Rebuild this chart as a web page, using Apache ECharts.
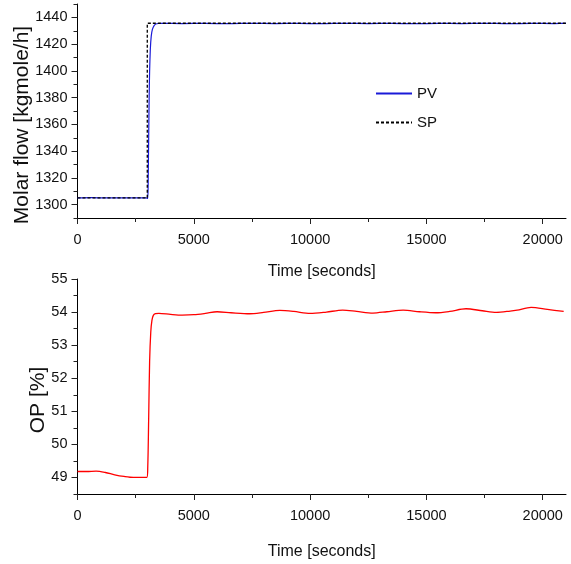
<!DOCTYPE html>
<html>
<head>
<meta charset="utf-8">
<script src="https://cdn.jsdelivr.net/npm/echarts@6/dist/echarts.min.js"></script>
<style>
html,body{margin:0;padding:0;background:#fff;}
#chart{width:571px;height:564px;}
</style>
</head>
<body>
<div id="chart"></div>
<script>
// ---- data ----
var xTicks = [0, 5000, 10000, 15000, 20000];
var xMinorTicks = [2500, 7500, 12500, 17500];
var flowTicks = [1300, 1320, 1340, 1360, 1380, 1400, 1420, 1440];
var flowMinorTicks = [1290, 1310, 1330, 1350, 1370, 1390, 1410, 1430, 1450];
var opTicks = [49, 50, 51, 52, 53, 54, 55];
var opMinorTicks = [48.5, 49.5, 50.5, 51.5, 52.5, 53.5, 54.5];

var pvTime = [0, 600, 1200, 1800, 2400, 2950, 3020, 3040, 3060, 3080, 3100, 3130, 3170, 3220, 3300, 3400, 3600, 4500, 5500, 6500, 7500, 8500, 9500, 10500, 11500, 12500, 13500, 14500, 15500, 16500, 17500, 18500, 19500, 20500, 21000];
var pvValues = [1305, 1305.2, 1305, 1305.1, 1305, 1305, 1304.6, 1320, 1350, 1380, 1400, 1416, 1426, 1431, 1434, 1435.2, 1435.6, 1435.4, 1435.5, 1435.3, 1435.6, 1435.4, 1435.5, 1435.3, 1435.6, 1435.4, 1435.5, 1435.3, 1435.5, 1435.4, 1435.6, 1435.3, 1435.5, 1435.4, 1435.5];

var spTime = [0, 3000, 3000, 21000];
var spValues = [1305, 1305, 1435.6, 1435.6];

var opTime = [0, 400, 800, 1200, 1600, 2000, 2400, 2800, 2980, 3020, 3060, 3100, 3150, 3200, 3260, 3350, 3500, 4000, 4500, 5000, 5500, 6000, 6600, 7400, 8000, 8700, 9300, 10000, 10700, 11400, 12000, 12700, 13300, 14000, 14700, 15400, 16000, 16700, 17400, 18000, 18600, 18900, 19500, 20200, 20900];
var opValues = [49.18, 49.18, 49.19, 49.15, 49.08, 49.03, 49.0, 49.0, 49.0, 49.3, 50.8, 52.5, 53.4, 53.75, 53.9, 53.95, 53.96, 53.93, 53.91, 53.92, 53.96, 54.01, 53.98, 53.95, 53.99, 54.05, 54.02, 53.96, 54.0, 54.06, 54.02, 53.97, 54.01, 54.06, 54.01, 53.98, 54.02, 54.1, 54.04, 53.99, 54.03, 54.06, 54.14, 54.08, 54.02];

function zip(a, b) { return a.map(function (v, i) { return [v, b[i]]; }); }

var sans = '"Liberation Sans", Arial, sans-serif';
function plain(v) { return String(v); }

function mainX(grid, gap) {
  return {
    type: 'value', gridIndex: grid, min: 0, max: 21000, position: 'bottom',
    axisLine: { show: true, onZero: false, lineStyle: { color: '#000', width: 1 } },
    axisTick: { show: true, length: 6, lineStyle: { color: '#222' }, customValues: xTicks },
    axisLabel: { show: true, margin: 14, fontSize: 14.5, fontFamily: sans, color: '#111', customValues: xTicks, formatter: plain },
    splitLine: { show: false },
    name: 'Time [seconds]', nameLocation: 'middle', nameGap: gap,
    nameTextStyle: { fontSize: 16, fontFamily: sans, color: '#111' }
  };
}
function minorX(grid) {
  return {
    type: 'value', gridIndex: grid, min: 0, max: 21000, position: 'bottom',
    axisLine: { show: false, onZero: false },
    axisTick: { show: true, length: 4, lineStyle: { color: '#222' }, customValues: xMinorTicks },
    axisLabel: { show: false },
    splitLine: { show: false }
  };
}
function mainY(grid, min, max, ticks) {
  return {
    type: 'value', gridIndex: grid, min: min, max: max, position: 'left',
    axisLine: { show: true, onZero: false, lineStyle: { color: '#000', width: 1 } },
    axisTick: { show: true, length: 6, lineStyle: { color: '#222' }, customValues: ticks },
    axisLabel: { show: true, margin: 10, fontSize: 14.5, fontFamily: sans, color: '#111', customValues: ticks, formatter: plain },
    splitLine: { show: false }
  };
}
function minorY(grid, min, max, ticks) {
  return {
    type: 'value', gridIndex: grid, min: min, max: max, position: 'left',
    axisLine: { show: false, onZero: false },
    axisTick: { show: true, length: 4, lineStyle: { color: '#222' }, customValues: ticks },
    axisLabel: { show: false },
    splitLine: { show: false }
  };
}

var chart = echarts.init(document.getElementById('chart'), null, { renderer: 'canvas' });
chart.setOption({
  animation: false,
  backgroundColor: '#fff',
  grid: [
    { left: 77.5, width: 488.5, top: 4, height: 214 },
    { left: 77.5, width: 488.5, top: 279, height: 215 }
  ],
  legend: {
    left: 370, top: 81, orient: 'vertical', itemWidth: 36, itemHeight: 14, itemGap: 14,
    itemStyle: { opacity: 0 },
    textStyle: { fontSize: 15, fontFamily: sans, color: '#111' },
    data: ['PV', 'SP']
  },
  xAxis: [mainX(0, 46), minorX(0), mainX(1, 50), minorX(1)],
  yAxis: [
    mainY(0, 1290, 1450, flowTicks), minorY(0, 1290, 1450, flowMinorTicks),
    mainY(1, 48.5, 55, opTicks), minorY(1, 48.5, 55, opMinorTicks)
  ],
  graphic: [
    { type: 'text', x: 22, y: 125, rotation: Math.PI / 2,
      style: { text: 'Molar flow [kgmole/h]', font: '21px ' + sans, fill: '#111', textAlign: 'center', textVerticalAlign: 'middle' } },
    { type: 'text', x: 38, y: 400, rotation: Math.PI / 2,
      style: { text: 'OP [%]', font: '21px ' + sans, fill: '#111', textAlign: 'center', textVerticalAlign: 'middle' } }
  ],
  series: [
    { name: 'PV', type: 'line', xAxisIndex: 0, yAxisIndex: 0, data: zip(pvTime, pvValues),
      showSymbol: false, symbol: 'none', smooth: 0.2, lineStyle: { color: '#1a1ad8', width: 1.2 }, itemStyle: { color: '#1a1ad8' }, z: 2 },
    { name: 'SP', type: 'line', xAxisIndex: 0, yAxisIndex: 0, data: zip(spTime, spValues),
      showSymbol: false, symbol: 'none', lineStyle: { color: '#000', width: 1.3, type: [3, 2] }, itemStyle: { color: '#000' }, z: 3 },
    { name: 'OP', type: 'line', xAxisIndex: 2, yAxisIndex: 2, data: zip(opTime, opValues),
      showSymbol: false, symbol: 'none', smooth: 0.3, lineStyle: { color: '#ff0000', width: 1.3 }, itemStyle: { color: '#ff0000' } }
  ]
});
</script>
</body>
</html>
